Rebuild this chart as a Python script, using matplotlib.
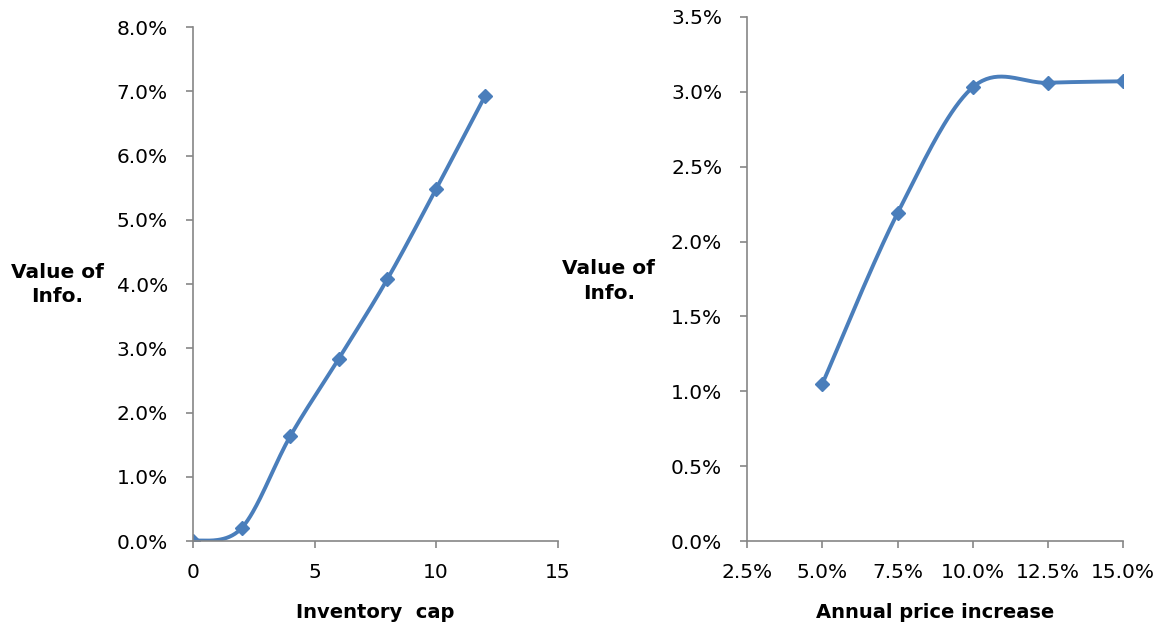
import numpy as np
import matplotlib
matplotlib.use("Agg")
import matplotlib.pyplot as plt
from matplotlib.ticker import FuncFormatter

# inventory cap sweep
cap = [0, 2, 4, 6, 8, 10, 12]
cap_value = [0.0, 0.20, 1.63, 2.84, 4.08, 5.48, 6.92]

# annual price increase sweep
price_inc = [5.0, 7.5, 10.0, 12.5, 15.0]
price_value = [1.05, 2.19, 3.03, 3.06, 3.07]

BLUE = "#4A7EBB"
GRAY = "#868686"

plt.rcParams["font.family"] = ["DejaVu Sans"]


def smooth(x, y, n=40):
    """Catmull-Rom style smoothing, like a spreadsheet 'smoothed line'."""
    x = np.asarray(x, float)
    y = np.asarray(y, float)
    px = np.concatenate([[x[0]], x, [x[-1]]])
    py = np.concatenate([[y[0]], y, [y[-1]]])
    xs, ys = [], []
    for i in range(1, len(px) - 2):
        p0, p1, p2, p3 = (np.array([px[j], py[j]]) for j in range(i - 1, i + 3))
        c1 = p1 + (p2 - p0) / 6
        c2 = p2 - (p3 - p1) / 6
        t = np.linspace(0, 1, n)[:, None]
        b = ((1 - t) ** 3) * p1 + 3 * ((1 - t) ** 2) * t * c1 + 3 * (1 - t) * t ** 2 * c2 + t ** 3 * p2
        xs.append(b[:, 0])
        ys.append(b[:, 1])
    return np.concatenate(xs), np.concatenate(ys)


def style(ax):
    for side in ["top", "right"]:
        ax.spines[side].set_visible(False)
    for side in ["left", "bottom"]:
        ax.spines[side].set_color(GRAY)
        ax.spines[side].set_linewidth(1.2)
    ax.tick_params(colors=GRAY, labelcolor="black", labelsize=14.5, length=5, width=1.2)
    ax.tick_params(axis="x", pad=11)
    ax.tick_params(axis="y", pad=13)


fig = plt.figure(figsize=(11.62, 6.33), dpi=100)

ax1 = fig.add_axes([0.166, 0.1453, 0.314, 0.812])
sx, sy = smooth(cap, cap_value)
ax1.plot(sx, sy, color=BLUE, lw=2.8, solid_capstyle="round")
ax1.plot(cap, cap_value, ls="none", marker="D", ms=7, color=BLUE)
ax1.set_xlim(0, 15)
ax1.set_ylim(0, 8)
ax1.set_xticks([0, 5, 10, 15])
ax1.set_yticks(np.arange(0, 8.1, 1))
ax1.yaxis.set_major_formatter(FuncFormatter(lambda v, p: f"{v:.1f}%"))
style(ax1)
ax1.set_xlabel("Inventory  cap", fontsize=14, fontweight="bold", labelpad=15)
fig.text(0.049, 0.55, "Value of\nInfo.", ha="center", va="center",
         fontsize=14.5, fontweight="bold", linespacing=1.35)

ax2 = fig.add_axes([0.643, 0.1453, 0.3236, 0.828])
sx, sy = smooth(price_inc, price_value)
ax2.plot(sx, sy, color=BLUE, lw=2.8, solid_capstyle="round")
ax2.plot(price_inc, price_value, ls="none", marker="D", ms=7, color=BLUE)
ax2.set_xlim(2.5, 15)
ax2.set_ylim(0, 3.5)
ax2.set_xticks(np.arange(2.5, 15.1, 2.5))
ax2.set_yticks(np.arange(0, 3.51, 0.5))
ax2.xaxis.set_major_formatter(FuncFormatter(lambda v, p: f"{v:.1f}%"))
ax2.yaxis.set_major_formatter(FuncFormatter(lambda v, p: f"{v:.1f}%"))
style(ax2)
ax2.set_xlabel("Annual price increase", fontsize=14, fontweight="bold", labelpad=15)
fig.text(0.524, 0.556, "Value of\nInfo.", ha="center", va="center",
         fontsize=14.5, fontweight="bold", linespacing=1.35)

fig.savefig("out.png", dpi=100)
